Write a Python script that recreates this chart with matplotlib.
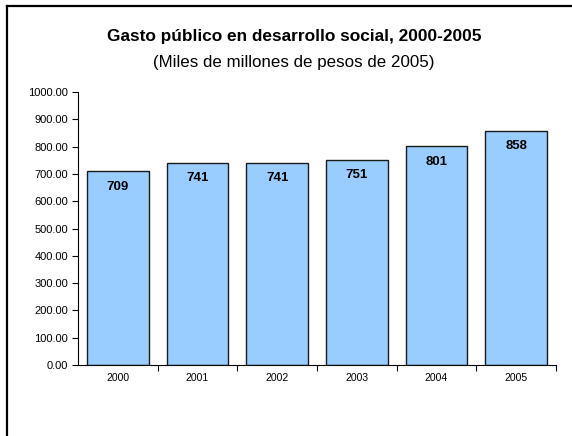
import matplotlib
matplotlib.use("Agg")
import matplotlib.pyplot as plt
from matplotlib.lines import Line2D

years = ["2000", "2001", "2002", "2003", "2004", "2005"]
gasto = [709, 741, 741, 751, 801, 858]
y_ticks = [0, 100, 200, 300, 400, 500, 600, 700, 800, 900, 1000]

plt.rcParams["font.family"] = ["Liberation Sans", "DejaVu Sans"]

W, H = 572, 436
fig = plt.figure(figsize=(W / 100, H / 100), dpi=100)
ax = fig.add_axes([78 / W, 1 - 365 / H, (556 - 78) / W, (365 - 92) / H])

x = range(len(years))
bars = ax.bar(x, gasto, width=0.77, color="#99CCFF",
              edgecolor="#1a1a1a", linewidth=1.0, zorder=2)

for xi, v in zip(x, gasto):
    ax.annotate("{0}".format(v), (xi, v), xytext=(0, -11),
                textcoords="offset points", ha="center", va="center",
                fontsize=9.5, fontweight="bold")

ax.set_xlim(-0.5, len(years) - 0.5)
ax.set_ylim(0, 1000)
ax.set_yticks(y_ticks)
ax.set_yticklabels(["{0:.2f}".format(t) for t in y_ticks], fontsize=8)
ax.tick_params(axis="y", length=4, width=0.8, pad=3)

# category labels centred, tick marks between categories
ax.set_xticks([i + 0.5 for i in range(len(years))])
ax.set_xticklabels([])
ax.set_xticks(list(x), minor=True)
ax.set_xticklabels(years, minor=True, fontsize=7.5)
ax.tick_params(axis="x", which="major", length=4, width=0.8, direction="out")
ax.tick_params(axis="x", which="minor", length=0, pad=6)

for side in ("top", "right"):
    ax.spines[side].set_visible(False)
for side in ("left", "bottom"):
    ax.spines[side].set_linewidth(0.8)

fig.text(294 / W, 1 - 37 / H, "Gasto público en desarrollo social, 2000-2005",
         ha="center", va="center", fontsize=12.4, fontweight="bold")
fig.text(294 / W, 1 - 62 / H, "(Miles de millones de pesos de 2005)",
         ha="center", va="center", fontsize=12.2)

# outer frame (left and top edges visible)
fig.add_artist(Line2D([7 / W, 7 / W], [0, 1 - 6 / H], transform=fig.transFigure,
                      color="black", linewidth=1.6, solid_capstyle="projecting"))
fig.add_artist(Line2D([7 / W, 1], [1 - 6 / H, 1 - 6 / H], transform=fig.transFigure,
                      color="black", linewidth=1.6, solid_capstyle="projecting"))

fig.savefig("out.png", dpi=100)
